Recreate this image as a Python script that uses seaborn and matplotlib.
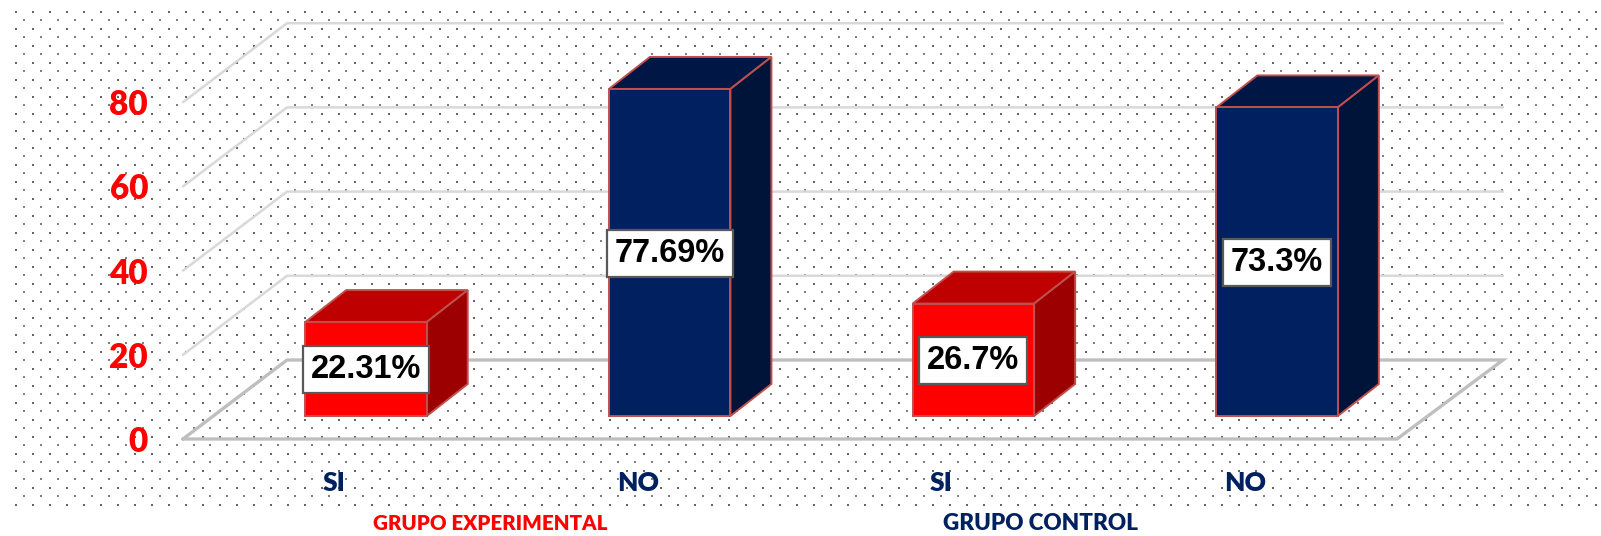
import numpy as np
import pandas as pd
import matplotlib
matplotlib.use("Agg")
import matplotlib.pyplot as plt
from matplotlib.patches import Polygon
import seaborn as sns

# Survey results per group, in percent
groups = ["Experimental", "Experimental", "Control", "Control"]
answers = ["SI", "NO", "SI", "NO"]
values = [22.31, 77.69, 26.7, 73.3]
value_labels = ["22.31%", "77.69%", "26.7%", "73.3%"]
y_ticks = [0, 20, 40, 60, 80]
group_titles = ["GRUPO EXPERIMENTAL", "GRUPO CONTROL"]

RED, NAVY = "#ff0000", "#002060"
TOP = {RED: "#bf0000", NAVY: "#001644"}
SIDE = {RED: "#9c0000", NAVY: "#001338"}
EDGE = "#c0504d"

W, H = 1601, 536
sns.set_theme(style="white")
plt.rcParams["font.family"] = ["Lato", "DejaVu Sans"]

fig = plt.figure(figsize=(W / 100, H / 100), dpi=100, facecolor="white")

# Dotted backdrop, laid out in pixel units
bg = fig.add_axes([0, 0, 1, 1])
bg.set_xlim(0, W)
bg.set_ylim(H, 0)
bg.axis("off")
bx, by = np.meshgrid(np.arange(15.7, W, 16.99), np.arange(12, 510, 17))
sx, sy = np.meshgrid(np.arange(23.6, W, 16.99), np.arange(20.4, 500, 17))
bg.scatter(bx.ravel(), by.ravel(), s=2.0, marker="s", c="#666666", linewidths=0)
bg.scatter(sx.ravel(), sy.ravel(), s=0.8, marker="s", c="#808080", linewidths=0)

# Plot axes: left edge just right of the tick labels, bottom edge on the floor's front line
left_px, bottom_px = 155, 439
ax = fig.add_axes([left_px / W, (H - bottom_px) / H, (W - left_px) / W, bottom_px / H])
ax.patch.set_alpha(0)

df = pd.DataFrame({"key": [f"{g} {a}" for g, a in zip(groups, answers)], "value": values})
colors = [RED if a == "SI" else NAVY for a in answers]
sns.barplot(data=df, x="key", y="value", hue="key", order=list(df["key"]),
            hue_order=list(df["key"]), palette=colors, dodge=False, width=0.4,
            edgecolor=EDGE, linewidth=1.4, legend=False, saturation=1, ax=ax, zorder=3)

# Scales: 303.7 px per category, 4.21 px per percentage point
px_cat, px_val = 303.7, 4.21
base_px = 416
floor_v = (base_px - bottom_px) / px_val
ax.set_xlim((left_px - 366) / px_cat, (W - 366) / px_cat)
ax.set_ylim(floor_v, base_px / px_val)

# Oblique offsets for the walls and for the bar depth
wall_dx, wall_dy = 104 / px_cat, 79 / px_val
bar_dx, bar_dy = 41 / px_cat, 32 / px_val
front_x0 = (183 - 366) / px_cat
front_x1 = (1397 - 366) / px_cat
back_x1 = (1503 - 366) / px_cat

# Gridlines run along the side wall, then across the back wall
for t in y_ticks[1:]:
    v = t + floor_v
    ax.plot([front_x0, front_x0 + wall_dx, back_x1], [v, v + wall_dy, v + wall_dy],
            color="#d9d9d9", lw=1.8, zorder=1, clip_on=False, solid_joinstyle="miter")

# Floor outline
ax.plot([front_x0, front_x0 + wall_dx, back_x1, front_x1, front_x0],
        [floor_v, floor_v + wall_dy, floor_v + wall_dy, floor_v, floor_v],
        color="#bfbfbf", lw=2.4, zorder=1.5, clip_on=False, solid_joinstyle="miter")

# Top and side faces extruded from each bar
for bar, c in zip(ax.patches, colors):
    x0, x1, h = bar.get_x(), bar.get_x() + bar.get_width(), bar.get_height()
    top = [(x0, h), (x1, h), (x1 + bar_dx, h + bar_dy), (x0 + bar_dx, h + bar_dy)]
    side = [(x1, 0), (x1 + bar_dx, bar_dy), (x1 + bar_dx, h + bar_dy), (x1, h)]
    ax.add_patch(Polygon(top, closed=True, fc=TOP[c], ec=EDGE, lw=1.4, zorder=2.5))
    ax.add_patch(Polygon(side, closed=True, fc=SIDE[c], ec=EDGE, lw=1.4, zorder=2.5))

# Value boxes centred on the front faces
for i, (v, label) in enumerate(zip(values, value_labels)):
    ax.annotate(label, xy=(i, v / 2), xytext=(0, 2), textcoords="offset points",
                ha="center", va="center_baseline", fontsize=23.5, fontweight="bold",
                family="Liberation Sans", color="black", zorder=6,
                bbox=dict(boxstyle="square,pad=0.24", fc="white", ec="#595959", lw=1.6))

# Axis text
ax.set_yticks([t + floor_v for t in y_ticks])
ax.set_yticklabels([str(t) for t in y_ticks], color="#ff0000", fontsize=24, fontweight="heavy")
for lab in ax.get_yticklabels():
    lab.set_verticalalignment("center_baseline")
ax.set_xticks([i - 32 / px_cat for i in range(4)])
ax.set_xticklabels(answers, color=NAVY, fontsize=19, fontweight="heavy")
ax.tick_params(axis="y", length=0, pad=5)
ax.tick_params(axis="x", length=0, pad=23)
ax.set_xlabel("")
ax.set_ylabel("")
ax.grid(False)
sns.despine(ax=ax, left=True, bottom=True)

# Group captions under the categories
trans = ax.get_xaxis_transform()
ax.text((490 - 366) / px_cat, -85 / bottom_px, group_titles[0], transform=trans, ha="center",
        va="center", color="#ff0000", fontsize=14.8, fontweight="heavy", clip_on=False)
ax.text((1040 - 366) / px_cat, -84 / bottom_px, group_titles[1], transform=trans, ha="center",
        va="center", color=NAVY, fontsize=16.2, fontweight="heavy", clip_on=False)

fig.savefig("out.png", dpi=100, facecolor="white")
